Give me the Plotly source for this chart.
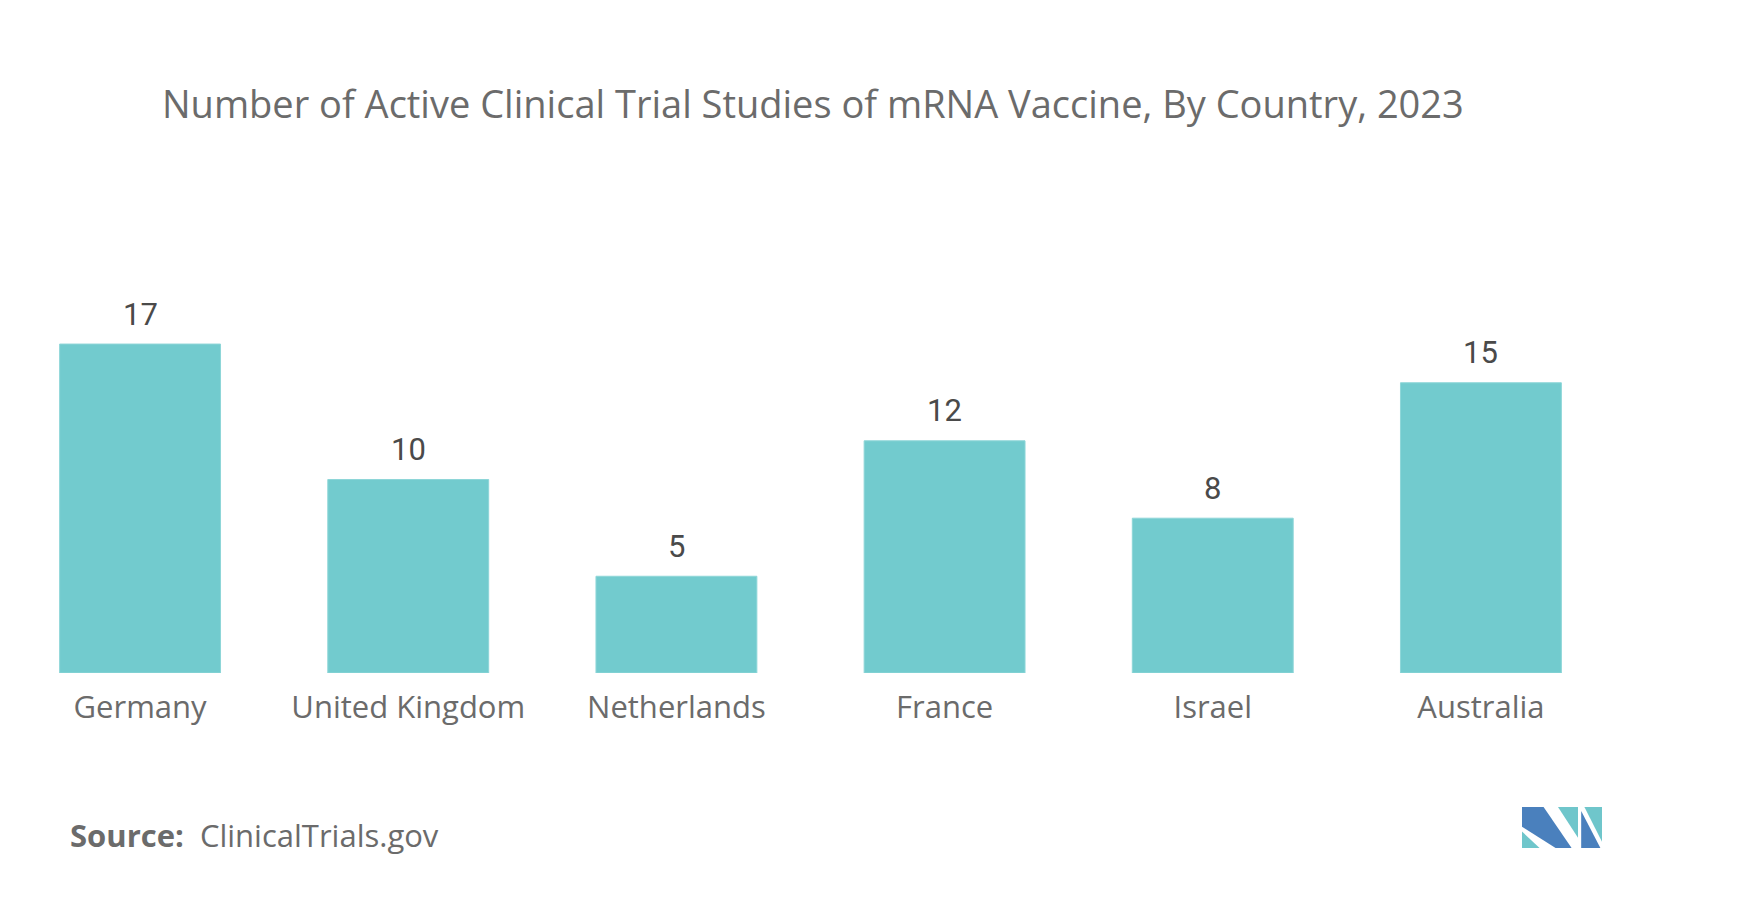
import plotly.graph_objects as go

countries = ["Germany", "United Kingdom", "Netherlands", "France", "Israel", "Australia"]
studies = [17, 10, 5, 12, 8, 15]

title_text = "Number of Active Clinical Trial Studies of mRNA Vaccine, By Country, 2023"
source_label = "Source:"
source_text = "ClinicalTrials.gov"

W, H = 1740, 916
L, R, T, B = 6, 125, 286, 243
pw, ph = W - L - R, H - T - B

def px(x):
    return (x - L) / pw

def py(y):
    return (H - B - y) / ph

fig = go.Figure()
fig.add_trace(go.Bar(
    x=countries, y=studies,
    marker=dict(color="#72CBCE", line=dict(color="#8ED6D8", width=1)),
    width=0.6, hoverinfo="x+y",
))

for c, v in zip(countries, studies):
    fig.add_annotation(x=c, y=v, xref="x", yref="y", text=str(v), showarrow=False,
                       yanchor="middle", yshift=30,
                       font=dict(family="Roboto", size=31, color="#4a4a4a"))

fig.update_layout(
    width=W, height=H,
    margin=dict(l=L, r=R, t=T, b=B),
    paper_bgcolor="white", plot_bgcolor="white",
    showlegend=False,
    title=dict(text=title_text, x=162 / W, xref="container", xanchor="left",
               y=1 - 105 / H, yref="container", yanchor="middle",
               font=dict(family="Open Sans", size=38, color="#6b6b6b")),
    xaxis=dict(showgrid=False, showline=False, zeroline=False, ticks="",
               ticklabelstandoff=13,
               tickfont=dict(family="Open Sans", size=31, color="#6b6b6b")),
    yaxis=dict(visible=False, range=[0, 20]),
)

fig.add_annotation(xref="paper", yref="paper", x=px(68), y=py(835),
                   xanchor="left", yanchor="middle", showarrow=False,
                   text=f"<b>{source_label}</b>&nbsp;&nbsp;{source_text}",
                   font=dict(family="Open Sans", size=31, color="#6b6b6b"))

# logo
lx0, ly0, lw, lh = 1522, 807, 80, 41
def path(pts):
    s = ""
    for i, (a, b) in enumerate(pts):
        s += ("M" if i == 0 else "L") + f"{px(lx0 + a * lw):.5f},{py(ly0 + b * lh):.5f} "
    return s + "Z"

blue = "#4A80BD"
teal = "#6FC6CB"
shapes = [
    (path([(0, 0.6), (0, 1), (0.22, 1)]), teal),
    (path([(0, 0), (0.27, 0), (0.62, 1), (0.42, 1), (0, 0.48)]), blue),
    (path([(0.45, 0), (0.70, 0), (0.70, 0.75)]), teal),
    (path([(0.74, 0.1), (0.98, 1), (0.74, 1)]), blue),
    (path([(0.78, 0), (1.0, 0), (1.0, 0.85)]), teal),
]
for p, c in shapes:
    fig.add_shape(type="path", path=p, xref="paper", yref="paper",
                  fillcolor=c, line=dict(width=0), layer="above")

fig.write_html("out.html", config={"displayModeBar": False},
               post_script="document.body.style.margin='0';")
